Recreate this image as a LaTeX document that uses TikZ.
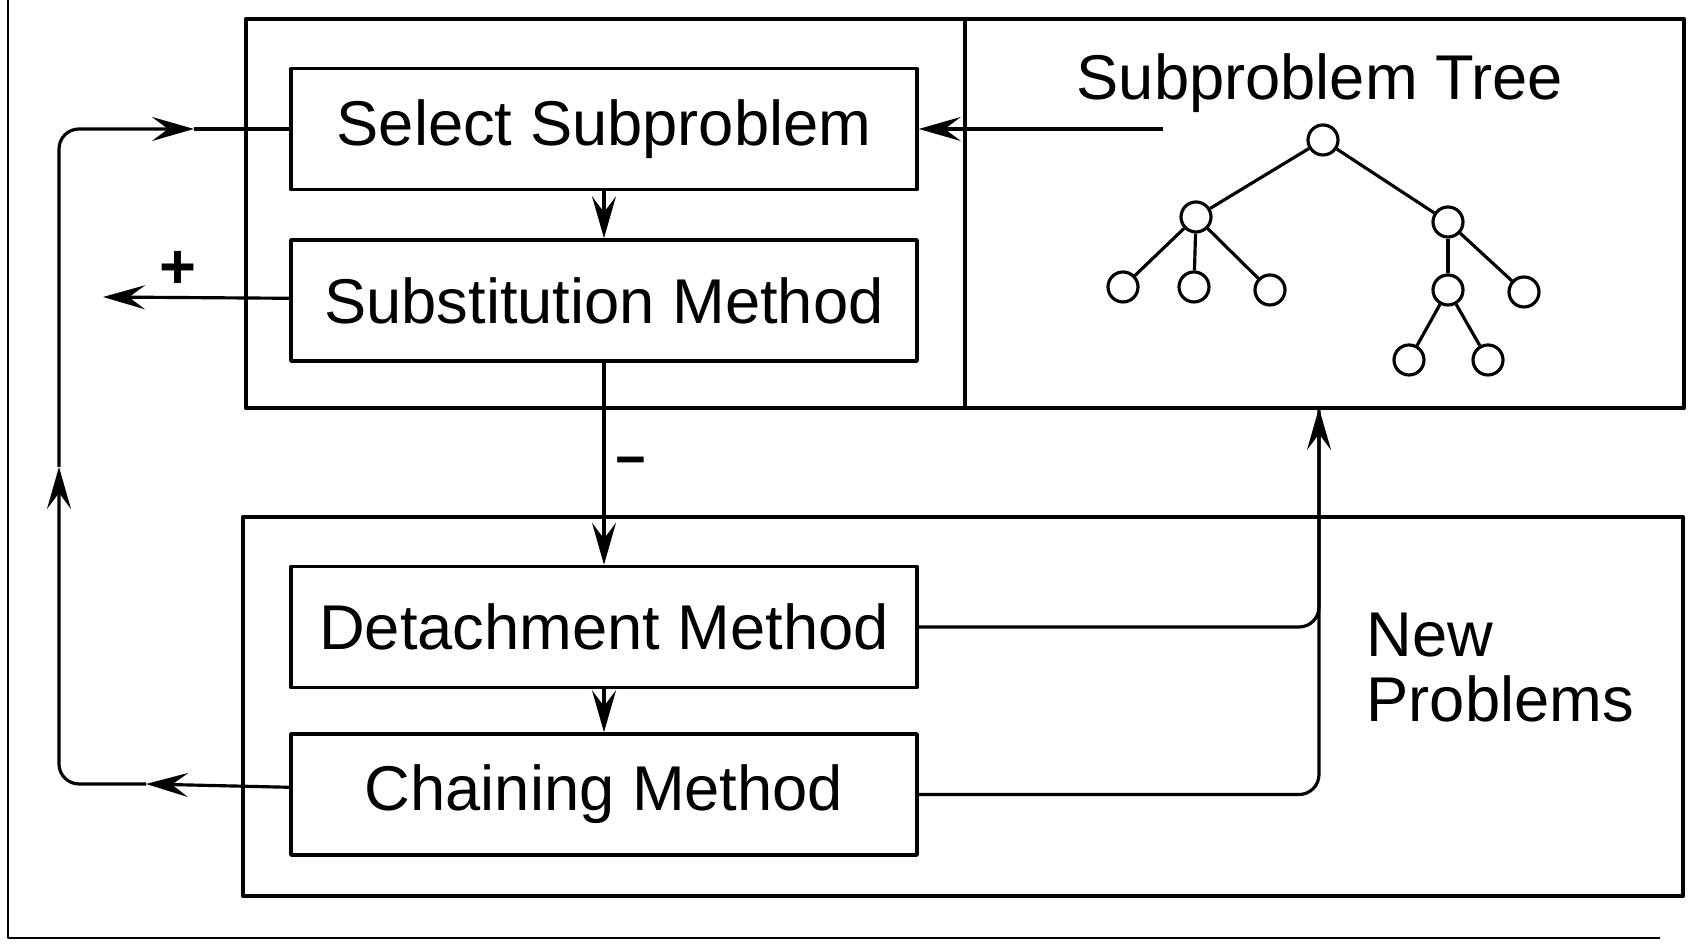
\documentclass[tikz,border=0pt]{standalone}
\usepackage{fontspec}
\setmainfont{Liberation Sans}
\usetikzlibrary{positioning,arrows.meta}

\tikzset{
  method/.style={draw,line width=1pt,minimum width=6.26cm,minimum height=1.21cm,font=\fontsize{18}{19}\selectfont},
  frame/.style={line width=1.3pt},
  flow/.style={line width=0.9pt,-{Stealth[length=0.42cm,width=0.24cm,inset=0.16cm]}},
  treenode/.style={draw,circle,line width=0.9pt,inner sep=0pt,minimum size=0.30cm},
}

\begin{document}
\begin{tikzpicture}[line join=round]
  \useasboundingbox (0,0) rectangle (16.91,9.48);

  % Draw outer frame
  \draw[line width=0.7pt] (0.08,9.48) -- (0.08,0.10) -- (16.6,0.10);

  % Draw top frame
  \coordinate (T0) at (2.46,5.40);
  \coordinate (T1) at (16.84,9.29);
  \draw[frame] (T0) rectangle (T1);
  \draw[frame] (9.65,5.40) -- (9.65,9.29);

  % Draw bottom frame
  \coordinate (B0) at (2.43,0.52);
  \coordinate (B1) at (16.83,4.31);
  \draw[frame] (B0) rectangle (B1);

  % Draw method boxes
  \node[method] (select) at (6.04,8.19) {Select Subproblem};
  \node[method,below=0.47cm of select] (subst) {Substitution Method};
  \node[method,below=2.02cm of subst] (detach) {Detachment Method};
  \node[method,below=0.43cm of detach] (chain) {Chaining Method};

  % Draw flow between boxes
  \draw[flow] (select) -- (subst);
  \draw[flow] (subst) -- (detach);
  \draw[flow] (detach) -- (chain);
  \node[font=\bfseries\fontsize{15}{16}\selectfont] (minus) at (6.31,4.81) {−};

  % Draw plus exit
  \coordinate (plusout) at (1.03,6.51);
  \draw[flow] (subst) -- (plusout);
  \node[font=\bfseries\fontsize{18}{19}\selectfont] (plus) at (1.78,6.78) {+};

  % Draw subproblem tree
  \node[font=\fontsize{18}{19}\selectfont,anchor=base] (treetitle) at (13.20,8.48) {Subproblem Tree};
  \foreach \name/\x/\y in {root/13.23/8.08, l/11.96/7.31, r/14.48/7.26,
      ll/11.23/6.61, lm/11.94/6.61, lr/12.70/6.58, rm/14.48/6.58,
      rr/15.24/6.56, rml/14.09/5.88, rmr/14.88/5.88}
    \node[treenode] (\name) at (\x,\y) {};
  \foreach \a/\b in {root/l, root/r, l/ll, l/lm, l/lr, r/rm, r/rr, rm/rml, rm/rmr}
    \draw[line width=0.9pt] (\a) -- (\b);

  % Draw tree to select
  \coordinate (treeout) at (11.63,8.19);
  \draw[flow] (treeout) -- (select);

  % Draw new problems
  \coordinate (newin) at (13.19,5.40);
  \draw[flow,rounded corners=0.2cm] (chain) -| (newin);
  \draw[line width=0.9pt,rounded corners=0.2cm] (detach) -| (newin);
  \node[font=\fontsize{18}{18.5}\selectfont,align=left,anchor=north west,inner sep=0pt] (newprob) at (13.66,3.36) {New\\Problems};

  % Draw loop back
  \coordinate (loopa) at (1.46,1.64);
  \coordinate (loopb) at (0.59,4.81);
  \coordinate (loopc) at (1.94,8.19);
  \draw[flow] (chain) -- (loopa);
  \draw[flow,rounded corners=0.2cm] (loopa) -| (loopb);
  \draw[flow,rounded corners=0.2cm] (loopb) |- (loopc);
  \draw[line width=0.9pt] (loopc) -- (select);

\end{tikzpicture}
\end{document}
